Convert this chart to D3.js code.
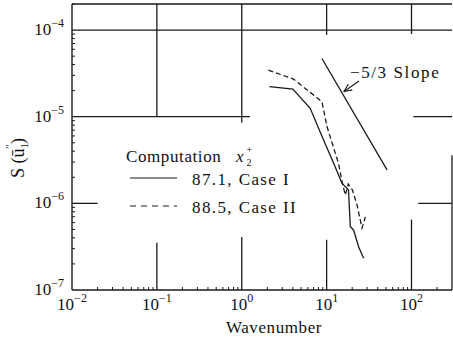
<!DOCTYPE html>
<html>
<head>
<meta charset="utf-8">
<script src="https://cdn.jsdelivr.net/npm/d3@7"></script>
<style>
  body { margin: 0; background: #fff; }
</style>
</head>
<body>
<div id="chart"></div>
<script>
// spectra
const caseIWave = [2.12, 4.0, 6.4, 9.2, 12.1, 15.2, 18.1, 19.0, 20.8, 23.8, 27.3];
const caseIS = [2.22e-5, 2.08e-5, 1.25e-5, 5.4e-6, 2.9e-6, 1.7e-6, 1.43e-6, 5.4e-7, 4.9e-7, 3.16e-7, 2.32e-7];

const caseIIWave = [2.06, 4.07, 8.8, 10.1, 13.8, 15.3, 16.6, 18.0, 20.1, 22.8, 26.1, 28.6];
const caseIIS = [3.45e-5, 2.72e-5, 1.49e-5, 7.7e-6, 2.9e-6, 1.72e-6, 1.25e-6, 1.67e-6, 1.43e-6, 9.6e-7, 5.2e-7, 6.95e-7];

// reference -5/3 slope line
const slopeWave = [8.8, 51.5];
const slopeS = [4.7e-5, 2.43e-6];

const xTicks = [1e-2, 1e-1, 1e0, 1e1, 1e2];
const xTickExp = ["\u22122", "\u22121", "0", "1", "2"];
const yTicks = [1e-7, 1e-6, 1e-5, 1e-4];
const yTickExp = ["\u22127", "\u22126", "\u22125", "\u22124"];

// the partial grid segments as printed
const hGridY = [1e-4, 1e-5, 1e-5, 1e-6, 1e-6];
const hGridFrom = [0.01, 0.01, 105, 0.01, 120];
const hGridTo = [300, 1.25, 300, 0.02, 300];
const vGridX = [0.1, 0.1, 1, 1, 10, 10, 100, 100, 300];
const vGridFrom = [1e-5, 1e-7, 8.5e-6, 1e-7, 8.8e-5, 1e-7, 9e-5, 1e-7, 1e-7];
const vGridTo = [2e-4, 3.5e-7, 2e-4, 4.1e-7, 2e-4, 3.8e-7, 2e-4, 6.5e-7, 3.6e-6];

const width = 453, height = 340;
const margin = { top: 4, right: 1, bottom: 50, left: 72 };
const serif = "'Liberation Serif', 'Times New Roman', 'DejaVu Serif', serif";

const svg = d3.select("#chart").append("svg")
  .attr("width", width)
  .attr("height", height)
  .attr("font-family", serif)
  .style("font-family", serif)
  .attr("fill", "#111");

const x = d3.scaleLog().domain([0.01, 300]).range([margin.left, width - margin.right]);
const y = d3.scaleLog().domain([1e-7, 2e-4]).range([height - margin.bottom, margin.top]);

const ink = "#1a1a1a";

// frame: left, bottom, top
svg.append("line").attr("x1", x(0.01)).attr("x2", x(0.01)).attr("y1", y(1e-7)).attr("y2", y(2e-4))
  .attr("stroke", ink).attr("stroke-width", 1.4);
svg.append("line").attr("x1", x(0.01)).attr("x2", x(300)).attr("y1", y(1e-7)).attr("y2", y(1e-7))
  .attr("stroke", ink).attr("stroke-width", 1.4);
svg.append("line").attr("x1", x(0.01)).attr("x2", x(300)).attr("y1", y(2e-4)).attr("y2", y(2e-4))
  .attr("stroke", ink).attr("stroke-width", 1.4);

// grid segments
svg.append("g").selectAll("line").data(hGridY).join("line")
  .attr("x1", (d, i) => x(hGridFrom[i])).attr("x2", (d, i) => x(hGridTo[i]))
  .attr("y1", d => y(d)).attr("y2", d => y(d))
  .attr("stroke", ink).attr("stroke-width", 1.3);
svg.append("g").selectAll("line").data(vGridX).join("line")
  .attr("x1", d => x(d)).attr("x2", d => x(d))
  .attr("y1", (d, i) => y(vGridFrom[i])).attr("y2", (d, i) => y(vGridTo[i]))
  .attr("stroke", ink).attr("stroke-width", 1.3);

// minor ticks, pointing inward
const xMinor = x.ticks().filter(d => !xTicks.includes(d) && d < 300);
svg.append("g").selectAll("line").data(xMinor).join("line")
  .attr("x1", d => x(d)).attr("x2", d => x(d))
  .attr("y1", y(1e-7)).attr("y2", y(1e-7) - 3)
  .attr("stroke", ink).attr("stroke-width", 1);
const yMinor = y.ticks().filter(d => !yTicks.some(t => Math.abs(t - d) / t < 1e-6));
svg.append("g").selectAll("line").data(yMinor).join("line")
  .attr("x1", x(0.01)).attr("x2", x(0.01) + 3)
  .attr("y1", d => y(d)).attr("y2", d => y(d))
  .attr("stroke", ink).attr("stroke-width", 1);

// tick labels 10^n
const xl = svg.append("g").selectAll("text").data(xTicks).join("text")
  .attr("x", d => x(d)).attr("y", height - margin.bottom + 20)
  .attr("text-anchor", "middle").attr("font-size", 17);
xl.append("tspan").text("10");
xl.append("tspan").attr("dy", -8).attr("font-size", 12).text((d, i) => xTickExp[i]);

const yl = svg.append("g").selectAll("text").data(yTicks).join("text")
  .attr("x", margin.left - 8).attr("y", d => y(d) + 5)
  .attr("text-anchor", "end").attr("font-size", 17);
yl.append("tspan").text("10");
yl.append("tspan").attr("dy", -8).attr("font-size", 12).text((d, i) => yTickExp[i]);

// axis titles
svg.append("text").attr("x", 274).attr("y", 333).attr("text-anchor", "middle")
  .attr("font-size", 17).attr("letter-spacing", 0.6).text("Wavenumber");

const yt = svg.append("text").attr("transform", "translate(24,158) rotate(-90)")
  .attr("text-anchor", "middle").attr("font-size", 18);
yt.append("tspan").text("S (\u016B");
yt.append("tspan").attr("font-size", 11).attr("dy", 4).text("1");
yt.append("tspan").attr("font-size", 12).attr("dx", -6).attr("dy", -14).text("\u2033");
yt.append("tspan").attr("dy", 10).text(")");

// curves
const line = d3.line().x(d => x(d[0])).y(d => y(d[1]));
svg.append("path").datum(caseIWave.map((w, i) => [w, caseIS[i]]))
  .attr("d", line).attr("fill", "none").attr("stroke", ink).attr("stroke-width", 1.3);
svg.append("path").datum(caseIIWave.map((w, i) => [w, caseIIS[i]]))
  .attr("d", line).attr("fill", "none").attr("stroke", ink).attr("stroke-width", 1.3)
  .attr("stroke-dasharray", "5,3");
svg.append("path").datum(slopeWave.map((w, i) => [w, slopeS[i]]))
  .attr("d", line).attr("fill", "none").attr("stroke", ink).attr("stroke-width", 1.3);

// slope annotation with arrow
svg.append("defs").append("marker").attr("id", "arr")
  .attr("viewBox", "0 0 10 10").attr("refX", 9).attr("refY", 5)
  .attr("markerWidth", 8).attr("markerHeight", 8).attr("orient", "auto")
  .append("path").attr("d", "M0,1 L9,5 L0,9").attr("fill", "none").attr("stroke", ink).attr("stroke-width", 1.3);
svg.append("line").attr("x1", 359).attr("y1", 81).attr("x2", 344).attr("y2", 91.5)
  .attr("stroke", ink).attr("stroke-width", 1.1).attr("marker-end", "url(#arr)");
svg.append("text").attr("x", 350).attr("y", 78).attr("font-size", 17).attr("letter-spacing", 1.6)
  .text("\u22125/3 Slope");

// legend
svg.append("text").attr("x", 126).attr("y", 162).attr("font-size", 17).attr("letter-spacing", 0.6)
  .text("Computation");
svg.append("text").attr("x", 236).attr("y", 162).attr("font-size", 17).attr("font-style", "italic").text("x");
svg.append("text").attr("x", 246.5).attr("y", 166).attr("font-size", 10).text("2");
svg.append("text").attr("x", 246.5).attr("y", 153).attr("font-size", 10).text("+");

svg.append("line").attr("x1", 130).attr("x2", 177).attr("y1", 178).attr("y2", 178)
  .attr("stroke", ink).attr("stroke-width", 1.2);
svg.append("line").attr("x1", 130).attr("x2", 177).attr("y1", 206).attr("y2", 206)
  .attr("stroke", ink).attr("stroke-width", 1.2).attr("stroke-dasharray", "6,5");
svg.append("text").attr("x", 192).attr("y", 185).attr("font-size", 17).attr("letter-spacing", 1.4)
  .text("87.1, Case I");
svg.append("text").attr("x", 192).attr("y", 213).attr("font-size", 17).attr("letter-spacing", 1.4)
  .text("88.5, Case II");
</script>
</body>
</html>
